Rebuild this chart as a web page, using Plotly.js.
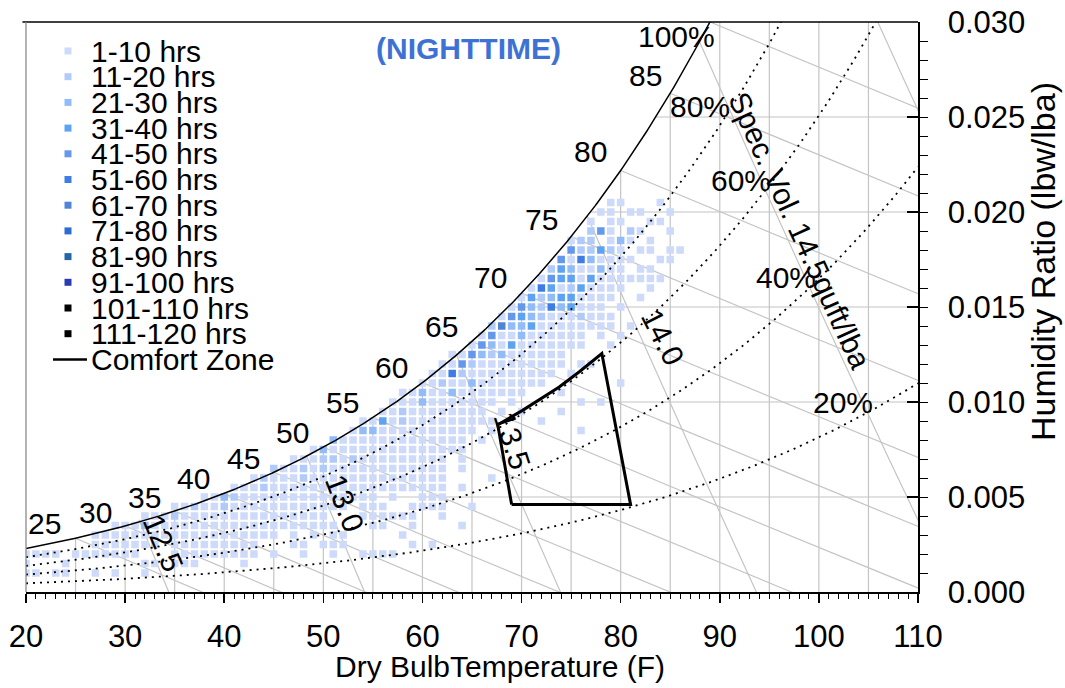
<!DOCTYPE html>
<html>
<head>
<meta charset="utf-8">
<script src="https://cdn.plot.ly/plotly-3.0.1.min.js"></script>
<style>
  html, body { margin: 0; padding: 0; background: #ffffff; }
  #chart { width: 1065px; height: 688px; }
</style>
</head>
<body>
<div id="chart"></div>
<script>
// Hour-count bins and their marker colours
const hourBins = ['1-10 hrs', '11-20 hrs', '21-30 hrs', '31-40 hrs', '41-50 hrs', '51-60 hrs',
                  '61-70 hrs', '71-80 hrs', '81-90 hrs', '91-100 hrs', '101-110 hrs', '111-120 hrs'];
const binColors = ['#cddaf9', '#b0cbf9', '#92bcf7', '#5ea2f4', '#6598ec', '#3e7de6',
                   '#5284d6', '#2d6bd2', '#2566a6', '#2b3cb3', '#000000', '#000000'];

// Humidity-ratio rows of the hourly grid (lbw/lba)
const humidityRatio = [0.0010, 0.0015, 0.0020, 0.0025, 0.0030, 0.0035, 0.0040, 0.0045, 0.0050, 0.0055,
                       0.0060, 0.0065, 0.0070, 0.0075, 0.0080, 0.0085, 0.0090, 0.0095, 0.0100, 0.0105,
                       0.0110, 0.0115, 0.0120, 0.0125, 0.0130, 0.0135, 0.0140, 0.0145, 0.0150, 0.0155,
                       0.0160, 0.0165, 0.0170, 0.0175, 0.0180, 0.0185, 0.0190, 0.0195, 0.0200, 0.0205];

// Dry-bulb temperatures (F) with night-time hours, one list per humidity row
const dryBulbByRow = [
  [20,21,23,24,27,29,32],
  [20,24,32,33,35,36,37,42],
  [20,21,22,23,25,26,27,28,29,30,31,35,36,37,38,39,40,41,42,43,45,48,51,54,55,56,57],
  [27,28,29,30,31,32,33,35,36,37,38,39,40,41,42,43,47,48,50,51,52,59,61],
  [27,28,29,30,31,32,33,34,35,36,37,38,39,40,41,42,43,44,45,47,49,51,52,58],
  [29,30,31,32,33,34,35,36,37,38,39,40,41,42,43,44,45,46,47,48,49,50,51,55,56,59,64],
  [32,33,34,35,36,37,38,39,40,41,42,43,44,45,46,47,48,49,50,54,55,56,57,58,59,62],
  [35,36,37,38,39,40,41,42,43,44,45,46,47,48,49,50,51,52,54,55,56,59,60,61,62,65],
  [38,39,40,41,42,43,44,45,46,47,48,49,50,51,52,53,54,55,57,60,61,62],
  [41,42,43,44,45,46,47,48,49,50,51,52,53,54,55,56,57,58,59,60,61,62,64],
  [43,44,45,46,47,48,49,50,51,52,53,54,55,56,57,58,59,60,61,62,67],
  [45,46,47,48,49,50,51,52,53,54,55,56,57,58,59,60,61,62,64],
  [47,48,49,50,51,52,53,54,55,56,57,58,59,60,61,62,64],
  [49,50,51,52,53,54,55,56,57,58,59,60,61,62,63,64],
  [51,52,53,54,55,56,57,58,59,60,61,62,63,64,66],
  [53,54,55,56,57,58,59,60,61,62,63,64,65,67,76],
  [54,55,56,57,58,59,60,61,62,63,64,65,66,67,72],
  [56,57,58,59,60,61,62,63,64,65,66,68,70,74],
  [57,58,59,60,61,62,63,64,65,66,67,69,76,78],
  [58,59,60,61,62,63,64,65,66,67,68,69,70,74],
  [60,61,62,63,64,65,66,67,68,69,70,71,72,80],
  [61,62,63,64,65,66,67,68,69,70,71,72,73,75],
  [62,63,64,65,66,67,68,69,70,71,72,73,74,76,77],
  [63,64,65,66,67,68,69,70,71,72,73,74],
  [65,66,67,68,69,70,71,72,73,74,75,76,79],
  [66,67,68,69,70,71,72,73,74,75,76,78,80],
  [67,68,69,70,71,72,73,74,75,76,77,78,79,81],
  [68,69,70,71,72,73,74,75,76,77,78,79],
  [69,70,71,72,73,74,75,76,77,78,80],
  [70,71,72,73,74,75,76,77,78,79,82],
  [71,72,73,74,75,76,77,78,79,80,83],
  [72,73,74,75,76,77,78,79,80,81,82,83,84],
  [73,74,75,76,77,78,79,80,82,83],
  [74,75,76,77,78,79,80,81,84,85],
  [75,76,77,78,79,80,82,83,85,86],
  [75,76,77,79,80,81,83],
  [77,78,79,81,82,85],
  [77,79,80,83,84],
  [78,79,81,82,85],
  [79,80,84]
];

// Cells above the lowest bin: [dry bulb F, humidity ratio, bin index]
const busyCells = [
  [32,0.0035,2], [35,0.0040,1], [37,0.0045,1], [40,0.0045,1], [40,0.0050,2], [41,0.0050,1],
  [44,0.0055,1], [44,0.0060,1], [48,0.0060,1], [45,0.0065,1], [48,0.0065,1], [50,0.0065,1],
  [50,0.0070,1], [51,0.0070,1], [53,0.0070,1], [50,0.0075,2], [51,0.0080,2], [54,0.0085,2],
  [55,0.0085,2], [56,0.0090,3], [58,0.0090,1], [58,0.0095,1], [60,0.0100,2], [60,0.0105,2],
  [63,0.0105,2], [62,0.0110,1], [65,0.0110,2], [63,0.0115,5], [64,0.0115,1], [64,0.0120,4],
  [65,0.0120,1], [65,0.0125,4], [66,0.0125,2], [67,0.0125,1], [68,0.0125,2], [66,0.0130,4],
  [67,0.0130,2], [69,0.0130,3], [67,0.0135,4], [70,0.0135,2], [67,0.0140,1], [68,0.0140,6],
  [69,0.0140,2], [70,0.0140,2], [71,0.0140,3], [69,0.0145,4], [70,0.0145,3], [71,0.0145,2],
  [72,0.0145,1], [76,0.0145,1], [70,0.0150,4], [71,0.0150,2], [72,0.0150,1], [73,0.0150,5],
  [74,0.0150,2], [75,0.0150,3], [71,0.0155,3], [72,0.0155,1], [73,0.0155,2], [74,0.0155,3],
  [75,0.0155,3], [72,0.0160,5], [73,0.0160,3], [75,0.0160,1], [76,0.0160,3], [73,0.0165,4],
  [74,0.0165,3], [75,0.0165,3], [77,0.0165,3], [73,0.0170,1], [74,0.0170,3], [75,0.0170,2],
  [78,0.0170,2], [74,0.0175,4], [76,0.0175,5], [77,0.0175,2], [75,0.0180,4], [76,0.0180,1],
  [77,0.0180,1], [78,0.0180,3], [79,0.0180,1], [76,0.0185,1], [77,0.0185,1], [80,0.0185,2],
  [77,0.0190,1], [78,0.0190,4], [81,0.0190,1]
];

// Comfort zone outline (dry bulb F, humidity ratio)
const comfortT = [69.0, 67.6, 70.1, 73.8, 75.8, 78.1, 81.0, 69.0];
const comfortW = [0.0046, 0.0088, 0.00956, 0.01079, 0.01158, 0.01255, 0.0046, 0.0046];

// Psychrometric reference lines
const rhLevels = [0.8, 0.6, 0.4, 0.2];
const wetBulbTemps = [25, 30, 35, 40, 45, 50, 55, 60, 65, 70, 75, 80, 85];
const specVolumes = [12.5, 13.0, 13.5, 14.0, 14.5, 15.0];
const gridTemps = [25, 30, 35, 40, 45, 50, 55, 60, 65, 70, 75, 80, 85, 90, 95, 100, 105];
const gridRatios = [0.005, 0.010, 0.015, 0.020, 0.025];
const chartTopRatio = 0.030;

// Curve labels
const wetBulbLabels = [
  ['25', 21.9, 0.00358], ['30', 27.0, 0.00416], ['35', 32.0, 0.0050], ['40', 36.9, 0.00595],
  ['45', 41.9, 0.00705], ['50', 46.9, 0.00837], ['55', 51.9, 0.00995], ['60', 56.9, 0.01179],
  ['65', 61.9, 0.0140], ['70', 66.9, 0.01653], ['75', 72.0, 0.01958], ['80', 77.0, 0.02316],
  ['85', 82.5, 0.02721]
];
const rhLabels = [['100%', 85.6, 0.02926], ['80%', 88.0, 0.02553], ['60%', 92.1, 0.02168],
                  ['40%', 96.7, 0.01653], ['20%', 102.4, 0.0100]];
const volumeLabels = [['12.5', 33.8, 0.00258, 67], ['13.0', 52.2, 0.00468, 69],
                      ['13.5', 69.1, 0.0080, 72], ['14.0', 84.3, 0.01342, 63],
                      ['Spec. Vol. 14.5quft/lba', 98.1, 0.01905, 65.4]];

// ---- psychrometric relations (sea-level pressure) ----
const P_KPA = 101.325;
const VOL_K = 0.0253;
function satPressure(tF) { const c = (tF - 32) / 1.8; return 0.61094 * Math.exp(17.625 * c / (c + 243.04)); }
function ratioFromPw(pw) { return 0.622 * pw / (P_KPA - pw); }
function satRatio(tF) { return ratioFromPw(satPressure(tF)); }
function dewPoint(w) {
  let lo = -40, hi = 140;
  for (let i = 0; i < 60; i++) { const m = (lo + hi) / 2; if (satRatio(m) < w) lo = m; else hi = m; }
  return (lo + hi) / 2;
}
function steps(a, b, d) { const out = []; for (let v = a; v <= b + 1e-9; v += d) out.push(v); return out; }

// gray construction lines: grid, wet-bulb and specific-volume lines
const gx = [], gy = [];
function addSeg(xs, ys) { gx.push(...xs, null); gy.push(...ys, null); }
gridTemps.forEach(t => addSeg([t, t], [0, Math.min(satRatio(t), chartTopRatio)]));
gridRatios.forEach(w => addSeg([dewPoint(w), 110], [w, w]));
function wetBulbLine(twb) {
  const ws = satRatio(twb), xs = [], ys = [];
  steps(twb, 112, 0.5).forEach(t => { xs.push(t); ys.push(ws - 0.240 * (t - twb) / (1061 + 0.444 * t)); });
  addSeg(xs, ys);
}
wetBulbTemps.forEach(wetBulbLine);
wetBulbLine(dewPoint(chartTopRatio));   // line leaving the top end of the saturation curve
specVolumes.forEach(v => {
  const xs = [], ys = [];
  for (let w = 0; w <= 0.032; w += 0.0002) {
    const t = v / (VOL_K * (1 + 1.6078 * w)) - 459.67;
    xs.push(t); ys.push(w);
    if (w > satRatio(t)) break;
  }
  addSeg(xs, ys);
});

// relative-humidity curves
const rx = [], ry = [];
rhLevels.forEach(rh => {
  steps(20, 110, 0.25).forEach(t => { rx.push(t); ry.push(ratioFromPw(rh * satPressure(t))); });
  rx.push(null); ry.push(null);
});
const sx = [], sy = [];
steps(20, 90, 0.2).forEach(t => { sx.push(t); sy.push(satRatio(t)); });

// hourly cells grouped by bin
const cellsX = hourBins.map(() => []), cellsY = hourBins.map(() => []);
const busyKey = {};
busyCells.forEach(c => { busyKey[c[0] + '|' + c[1].toFixed(4)] = c[2]; });
humidityRatio.forEach((w, i) => {
  dryBulbByRow[i].forEach(t => {
    const b = busyKey[t + '|' + w.toFixed(4)] || 0;
    cellsX[b].push(t); cellsY[b].push(w);
  });
});

const traces = [];
traces.push({ x: gx, y: gy, mode: 'lines', line: { color: '#c4c4c4', width: 1.2 }, hoverinfo: 'skip', showlegend: false });
hourBins.forEach((name, b) => {
  if (!cellsX[b].length) return;
  traces.push({ x: cellsX[b], y: cellsY[b], mode: 'markers', name: name, showlegend: false,
    marker: { symbol: 'square', size: 7.5, color: binColors[b], line: { width: 0 } } });
});
traces.push({ x: rx, y: ry, mode: 'lines', line: { color: '#000', width: 1.8, dash: '2px,5px' }, hoverinfo: 'skip', showlegend: false });
traces.push({ x: sx, y: sy, mode: 'lines', line: { color: '#000', width: 1.5 }, hoverinfo: 'skip', showlegend: false });
traces.push({ x: comfortT, y: comfortW, mode: 'lines', name: 'Comfort Zone', line: { color: '#000', width: 3 }, showlegend: false });

// layout helpers (plot area in pixels)
const L = 26, T = 22, W = 892, H = 570;
const px = v => (v - L) / W, py = v => (T + H - v) / H;
const FONT = 'Liberation Sans, Arial, Helvetica, sans-serif';

const annotations = [];
const shapes = [];
const centred = { xanchor: 'center', yanchor: 'middle', showarrow: false };
wetBulbLabels.forEach(l => annotations.push({ ...centred, x: l[1], y: l[2], text: l[0], font: { size: 30 } }));
rhLabels.forEach(l => annotations.push({ ...centred, x: l[1], y: l[2], text: l[0], font: { size: 30 } }));
volumeLabels.forEach(l => annotations.push({ ...centred, x: l[1], y: l[2], text: l[0], textangle: l[3], font: { size: 30 } }));

// legend
const legendTop = 51, legendStep = 25.7;
hourBins.forEach((name, i) => {
  const yc = legendTop + i * legendStep;
  shapes.push({ type: 'rect', xref: 'paper', yref: 'paper', x0: px(64.5), x1: px(71.5), y0: py(yc + 3.5), y1: py(yc - 3.5),
    fillcolor: binColors[i], line: { width: 0 } });
  annotations.push({ xref: 'paper', yref: 'paper', x: px(89), y: py(yc), xanchor: 'left', yanchor: 'middle',
    text: name, showarrow: false, font: { size: 30 } });
});
const czY = legendTop + hourBins.length * legendStep;
shapes.push({ type: 'line', xref: 'paper', yref: 'paper', x0: px(53), x1: px(87), y0: py(czY), y1: py(czY), line: { color: '#000', width: 2.5 } });
annotations.push({ xref: 'paper', yref: 'paper', x: px(89), y: py(czY), xanchor: 'left', yanchor: 'middle',
  text: 'Comfort Zone', showarrow: false, font: { size: 30 } });

// title and axis titles
annotations.push({ ...centred, xref: 'paper', yref: 'paper', x: px(468), y: py(48), text: '<b>(NIGHTTIME)</b>',
  font: { size: 30, color: '#3d72d4' } });
annotations.push({ ...centred, xref: 'paper', yref: 'paper', x: px(500), y: py(666), text: 'Dry BulbTemperature (F)',
  font: { size: 30 } });
annotations.push({ ...centred, xref: 'paper', yref: 'paper', x: px(1043), y: py(262), text: 'Humidity Ratio (lbw/lba)', textangle: -90,
  font: { size: 34 } });

// plot frame: top black, left gray
shapes.push({ type: 'line', xref: 'paper', yref: 'paper', x0: -0.004, x1: 1, y0: 1, y1: 1, line: { color: '#000', width: 1.5 } });
shapes.push({ type: 'line', xref: 'paper', yref: 'paper', x0: 0, x1: 0, y0: 0, y1: 1, line: { color: '#8a8a8a', width: 1.3 } });

const layout = {
  width: 1065, height: 688, autosize: false,
  margin: { l: L, r: 1065 - L - W, t: T, b: 688 - T - H, pad: 0 },
  paper_bgcolor: '#fff', plot_bgcolor: '#fff',
  font: { family: FONT, color: '#000', size: 29 },
  showlegend: false,
  xaxis: {
    range: [20, 110], tickvals: [20, 30, 40, 50, 60, 70, 80, 90, 100, 110],
    showgrid: false, zeroline: false, showline: true, linecolor: '#000', linewidth: 1.5,
    ticks: 'outside', ticklen: 9, tickwidth: 1.5, tickcolor: '#000', tickfont: { size: 31 }, ticklabelstandoff: 7,
    minor: { ticks: 'outside', dtick: 1, ticklen: 5, tickwidth: 1, tickcolor: '#000', showgrid: false }
  },
  yaxis: {
    range: [0, 0.030], side: 'right', dtick: 0.005, tickformat: '.3f',
    showgrid: false, zeroline: false, showline: true, linecolor: '#000', linewidth: 1.5,
    ticks: 'inside', ticklen: 11, tickwidth: 1.5, tickcolor: '#000', tickfont: { size: 31 }, ticklabelstandoff: 22,
    minor: { ticks: 'outside', dtick: 0.001, ticklen: 8, tickwidth: 1, tickcolor: '#000', showgrid: false }
  },
  annotations: annotations,
  shapes: shapes
};

Plotly.newPlot('chart', traces, layout, { staticPlot: true, displayModeBar: false });
</script>
</body>
</html>
